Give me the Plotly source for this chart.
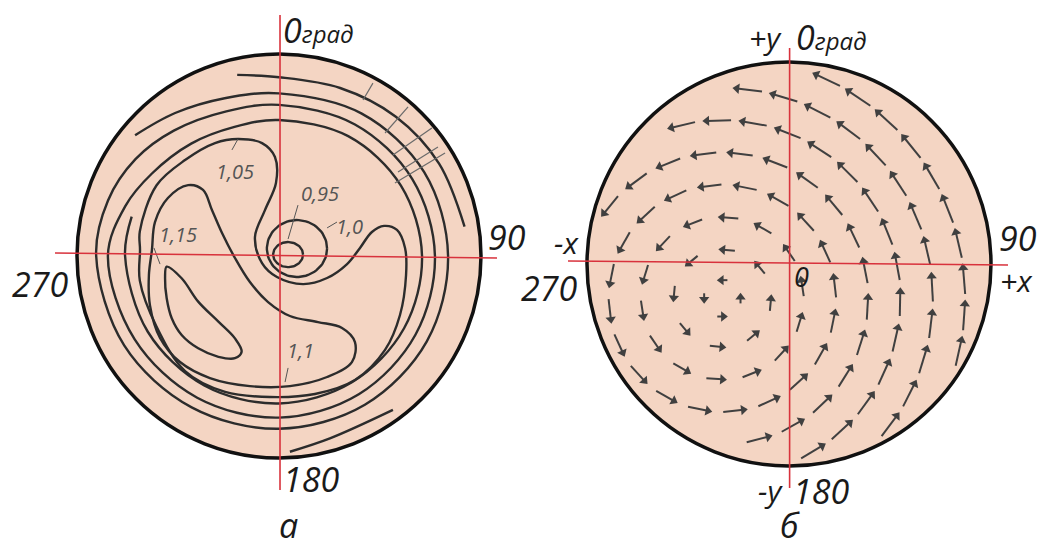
import numpy as np
import plotly.graph_objects as go

# ---------------- data (unit-circle coordinates: u to the right, v up) ----------------
# left panel "а": contour lines
SPIRAL_THETA = [140, 126, 109, 90, 60, 30, 0, -30, -60, -90, -120, -150, -180, -198, -214,
                -230, -250, -270, -300, -330, -360, -390, -420, -450, -480, -510, -540,
                -558, -573, -592, -611, -630, -660, -690, -720, -750, -780, -810, -840,
                -870, -900, -915]
SPIRAL_R = [0.93, 0.875, 0.826, 0.805, 0.815, 0.83, 0.837, 0.845, 0.85, 0.855, 0.865, 0.885,
            0.905, 0.89, 0.857, 0.81, 0.762, 0.748, 0.752, 0.762, 0.772, 0.78, 0.79, 0.80,
            0.81, 0.825, 0.847, 0.80, 0.75, 0.706, 0.676, 0.673, 0.685, 0.697, 0.708, 0.715,
            0.722, 0.73, 0.74, 0.75, 0.762, 0.755]
OUTER_ARC_THETA = [103, 90, 70, 50, 30, 9]
OUTER_ARC_R = [0.92, 0.885, 0.885, 0.90, 0.915, 0.93]
BOTTOM_ARC_U = [0.054, 0.252, 0.564]
BOTTOM_ARC_V = [-0.969, -0.903, -0.762]

C105_U = [-0.688, -0.689, -0.606, -0.465, -0.317, -0.203, -0.084, -0.020, -0.015, -0.069,
          -0.119, -0.084, -0.010, 0.119, 0.238, 0.337, 0.401, 0.460, 0.520, 0.584, 0.624,
          0.629, 0.599, 0.525, 0.376, 0.178, -0.045, -0.267, -0.465, -0.606, -0.689]
C105_V = [0.030, 0.122, 0.350, 0.475, 0.559, 0.579, 0.559, 0.490, 0.361, 0.228, 0.094,
          -0.035, -0.104, -0.139, -0.109, -0.040, 0.040, 0.119, 0.149, 0.129, 0.040,
          -0.094, -0.292, -0.465, -0.614, -0.683, -0.698, -0.673, -0.570, -0.350, -0.122]
C110_U = [-0.629, -0.614, -0.550, -0.450, -0.376, -0.332, -0.282, -0.218, -0.144, -0.054,
          0.054, 0.193, 0.312, 0.376, 0.361, 0.238, 0.054, -0.144, -0.342, -0.490, -0.589,
          -0.639, -0.644]
C110_V = [0.030, 0.168, 0.287, 0.351, 0.327, 0.228, 0.114, -0.010, -0.129, -0.228, -0.297,
          -0.327, -0.356, -0.426, -0.525, -0.599, -0.644, -0.644, -0.604, -0.525, -0.406,
          -0.243, -0.094]
C115_U = [-0.556, -0.482, -0.400, -0.300, -0.218, -0.185, -0.218, -0.300, -0.400, -0.482,
          -0.531, -0.556, -0.564]
C115_V = [-0.053, -0.110, -0.226, -0.325, -0.408, -0.474, -0.506, -0.499, -0.457, -0.391,
          -0.308, -0.209, -0.110]
C100_CENTER = (0.089, 0.037)
C100_RADII = (0.149, 0.141)
C095_CENTER = (0.045, 0.007)
C095_RADII = (0.074, 0.062)
HATCH_U0 = [0.416, 0.525, 0.564, 0.589, 0.574]
HATCH_V0 = [0.772, 0.609, 0.500, 0.416, 0.361]
HATCH_U1 = [0.465, 0.639, 0.757, 0.787, 0.822]
HATCH_V1 = [0.856, 0.738, 0.634, 0.540, 0.510]
LEVEL_LABELS = ["1,05", "0,95", "1,0", "1,15", "1,1"]
LEADER_U0 = [-0.203, 0.045, 0.238, -0.589, 0.045]
LEADER_V0 = [0.579, 0.084, 0.139, -0.040, -0.554]
LEADER_U1 = [-0.233, 0.094, 0.287, -0.619, 0.030]
LEADER_V1 = [0.525, 0.252, 0.168, 0.040, -0.624]

# right panel "б": rotating field, rings of arrows around the vortex centre
VORTEX_CENTER = (-0.33, -0.17)
RING_RADII = [0.09, 0.24, 0.40, 0.56, 0.72, 0.88, 1.04, 1.20, 1.36]
RING_ARROW_LEN = [0.05, 0.08, 0.10, 0.12, 0.13, 0.14, 0.145, 0.15, 0.15]
ARROW_GAP = 0.18

# ---------------- layout constants ----------------
W, H = 1040, 548
S = 202.0                 # pixels per unit radius
LC = (279, 256)           # left disc centre (px)
RC = (789, 264)           # right disc centre (px)
PEACH = "#F4D5C3"
RED = "#D8323C"
INK = "#2c2c2c"

fig = go.Figure()


def line(xs, ys, axis, color=INK, width=2.4, shape="spline"):
    xa, ya = ("x", "y") if axis == 1 else ("x2", "y2")
    fig.add_trace(go.Scatter(x=xs, y=ys, mode="lines", xaxis=xa, yaxis=ya,
                             line=dict(color=color, width=width, shape=shape, smoothing=1.0),
                             hoverinfo="skip", showlegend=False))


def closed(u, v):
    return list(u) + [u[0]], list(v) + [v[0]]


def ellipse(c, r, n=80):
    t = np.linspace(0, 2 * np.pi, n)
    return c[0] + r[0] * np.cos(t), c[1] + r[1] * np.sin(t)


# left panel contours
th = np.radians(SPIRAL_THETA)
line(np.array(SPIRAL_R) * np.cos(th), np.array(SPIRAL_R) * np.sin(th), 1)
th = np.radians(OUTER_ARC_THETA)
line(np.array(OUTER_ARC_R) * np.cos(th), np.array(OUTER_ARC_R) * np.sin(th), 1)
line(BOTTOM_ARC_U, BOTTOM_ARC_V, 1)
for u, v in [(C105_U, C105_V), (C110_U, C110_V), (C115_U, C115_V)]:
    cu, cv = closed(u, v)
    line(cu, cv, 1)
for c, r in [(C100_CENTER, C100_RADII), (C095_CENTER, C095_RADII)]:
    ex, ey = ellipse(c, r)
    line(ex, ey, 1, shape="linear")
hx, hy = [], []
for a, b, c, d in zip(HATCH_U0, HATCH_V0, HATCH_U1, HATCH_V1):
    hx += [a, c, None]
    hy += [b, d, None]
line(hx, hy, 1, color="#6a6a6a", width=1.2, shape="linear")
lx, ly = [], []
for a, b, c, d in zip(LEADER_U0, LEADER_V0, LEADER_U1, LEADER_V1):
    lx += [a, c, None]
    ly += [b, d, None]
line(lx, ly, 1, color="#555555", width=1.0, shape="linear")

# right panel arrows
sx, sy, hx, hy, hang = [], [], [], [], []
for i, (rr, L) in enumerate(zip(RING_RADII, RING_ARROW_LEN)):
    n = max(4, int(round(2 * np.pi * rr / ARROW_GAP)))
    for k in range(n):
        a = 2 * np.pi * (k + 0.5 * (i % 2)) / n + 0.3 * i
        px = VORTEX_CENTER[0] + rr * np.cos(a)
        py = VORTEX_CENTER[1] + rr * np.sin(a)
        tx, ty = -np.sin(a), np.cos(a)
        x0, y0 = px - tx * L / 2, py - ty * L / 2
        x1, y1 = px + tx * L / 2, py + ty * L / 2
        if np.hypot(x0, y0) > 0.97 or np.hypot(x1, y1) > 0.97:
            continue
        sx += [x0, x1 - tx * 0.02, None]
        sy += [y0, y1 - ty * 0.02, None]
        hx.append(x1 - tx * 0.02)
        hy.append(y1 - ty * 0.02)
        hang.append(np.degrees(np.arctan2(tx, ty)))
line(sx, sy, 2, color="#404040", width=2.0, shape="linear")
fig.add_trace(go.Scatter(x=hx, y=hy, mode="markers", xaxis="x2", yaxis="y2",
                         marker=dict(symbol="triangle-up", size=9, angle=hang,
                                     color="#404040", line=dict(width=0)),
                         hoverinfo="skip", showlegend=False))

# red crosshairs
line([0.005, 0.005], [(LC[1] - 15) / S, (LC[1] - 490) / S], 1, color=RED, width=1.6, shape="linear")
line([(55 - LC[0]) / S, (497 - LC[0]) / S], [(LC[1] - 253) / S, (LC[1] - 258) / S], 1,
     color=RED, width=1.6, shape="linear")
line([0.003, 0.003], [(RC[1] - 48) / S, (RC[1] - 488) / S], 2, color=RED, width=1.6, shape="linear")
line([(568 - RC[0]) / S, (1008 - RC[0]) / S], [(RC[1] - 261) / S, (RC[1] - 265) / S], 2,
     color=RED, width=1.6, shape="linear")

# discs
for xr, yr in [("x", "y"), ("x2", "y2")]:
    fig.add_shape(type="circle", xref=xr, yref=yr, x0=-1, y0=-1, x1=1, y1=1,
                  fillcolor=PEACH, line=dict(color="#111111", width=3.5), layer="below")

# text
FONT = "Open Sans"


def txt(s, px, py, size, color="#1a1a1a", xanchor="center"):
    fig.add_annotation(text=s, x=px / W, y=1 - py / H, xref="paper", yref="paper",
                       showarrow=False, xanchor=xanchor, yanchor="middle", borderpad=0,
                       font=dict(family=FONT, size=size, color=color))


GRAD = "<i>0<span style='font-size:24px'>град</span></i>"
txt(GRAD, 282, 30, 34, xanchor="left")
txt("<i>90</i>", 507, 237, 34)
txt("<i>270</i>", 40, 284, 34)
txt("<i>180</i>", 311, 479, 34)
txt("<i>а</i>", 288, 525, 34)

txt("<i>+y</i>", 765, 37, 30)
txt(GRAD, 795, 37, 34, xanchor="left")
txt("<i>-x</i>", 566, 242, 30)
txt("<i>270</i>", 549, 288, 34)
txt("<i>0</i>", 801, 276, 27)
txt("<i>90</i>", 1018, 238, 34)
txt("<i>+x</i>", 1016, 280, 30)
txt("<i>-y</i>", 770, 490, 30)
txt("<i>180</i>", 821, 491, 34)
txt("<i>б</i>", 790, 525, 34)

LABEL_PX = [(235, 171), (320, 193), (349, 227), (178, 235), (300, 350)]
for s, (px, py) in zip(LEVEL_LABELS, LABEL_PX):
    txt("<i>" + s + "</i>", px, py, 20, color="#555555")

ax = dict(visible=False, showgrid=False, zeroline=False, fixedrange=True)
fig.update_layout(
    width=W, height=H, autosize=False, margin=dict(l=0, r=0, t=0, b=0),
    paper_bgcolor="white", plot_bgcolor="rgba(0,0,0,0)", showlegend=False,
    xaxis=dict(domain=[0, 0.5], range=[(0 - LC[0]) / S, (520 - LC[0]) / S], **ax),
    yaxis=dict(domain=[0, 1], range=[(LC[1] - H) / S, LC[1] / S], **ax),
    xaxis2=dict(domain=[0.5, 1], range=[(520 - RC[0]) / S, (W - RC[0]) / S], anchor="y2", **ax),
    yaxis2=dict(domain=[0, 1], range=[(RC[1] - H) / S, RC[1] / S], anchor="x2", **ax),
)
fig.write_html("out.html", config={"displayModeBar": False},
               post_script="document.body.style.margin='0';document.body.style.overflow='hidden';")
